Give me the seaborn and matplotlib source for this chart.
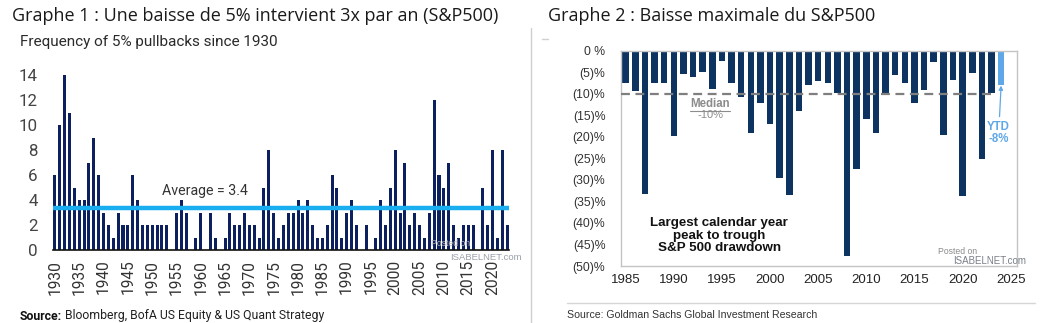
import matplotlib
matplotlib.use("Agg")
import matplotlib.pyplot as plt
import pandas as pd
import seaborn as sns

# ---- Chart 1: number of 5% pullbacks per calendar year (S&P 500) ----
pullback_years = list(range(1930, 2024))
pullback_counts = [6, 10, 14, 11, 5, 4, 4, 7, 9, 6,      # 1930s
                   3, 2, 1, 3, 2, 2, 6, 4, 2, 2,         # 1940s
                   2, 2, 2, 2, 0, 3, 4, 3, 0, 1,         # 1950s
                   3, 0, 3, 1, 0, 1, 3, 2, 2, 3,         # 1960s
                   2, 2, 1, 5, 8, 3, 1, 2, 3, 3,         # 1970s
                   4, 3, 4, 2, 1, 1, 2, 6, 5, 1,         # 1980s
                   3, 4, 2, 0, 2, 0, 1, 4, 2, 5,         # 1990s
                   8, 3, 7, 2, 3, 2, 1, 3, 12, 6,        # 2000s
                   5, 7, 2, 1, 2, 2, 2, 0, 5, 2,         # 2010s
                   8, 1, 8, 2]                           # 2020-2023
pullback_average = 3.4
pullback_xticks = list(range(1930, 2021, 5))
pullback_yticks = list(range(0, 15, 2))

# ---- Chart 2: largest calendar-year peak-to-trough drawdown (%) ----
drawdown_years = list(range(1985, 2025))
drawdown_pct = [-7.6, -9.4, -33.3, -7.6, -7.6, -19.8, -5.5, -6.2, -5.0, -8.8,
                -2.5, -7.6, -10.8, -19.2, -12.1, -17.1, -29.5, -33.5, -13.9, -8.0,
                -7.1, -7.6, -9.8, -47.7, -27.4, -15.9, -19.2, -9.8, -5.6, -7.4,
                -12.2, -9.1, -2.6, -19.6, -6.7, -33.7, -5.1, -25.2, -9.9, -8.0]
drawdown_kind = ["Full year"] * 39 + ["YTD"]
drawdown_median = -10
drawdown_xticks = list(range(1985, 2026, 5))
drawdown_yticks = [0, -5, -10, -15, -20, -25, -30, -35, -40, -45, -50]
drawdown_yticklabels = ["0 %", "(5)%", "(10)%", "(15)%", "(20)%", "(25)%",
                        "(30)%", "(35)%", "(40)%", "(45)%", "(50)%"]

W, H = 1055, 323
NAVY = "#0c1f5e"
AVG_BLUE = "#19aef0"
GS_BLUE = "#0d3461"
YTD_BLUE = "#5ea8e8"

sns.set_style("white")
NARROW = ["Roboto", "DejaVu Sans"]
HUMAN = ["Open Sans", "DejaVu Sans"]
ARIAL = ["Liberation Sans", "DejaVu Sans"]

fig = plt.figure(figsize=(W / 100, H / 100), dpi=100)
fig.patch.set_facecolor("white")


def fx(px):
    return px / W


def fy(py):
    return 1 - py / H


# ------------------------------------------------------------ chart 1
ax1 = fig.add_axes([fx(53), fy(250), fx(456), 14.5 * 12.5 / H])
df1 = pd.DataFrame({"year": pullback_years, "count": pullback_counts})
sns.barplot(data=df1, x="year", y="count", native_scale=True, width=0.62,
            color=NAVY, saturation=1, errorbar=None, linewidth=0, ax=ax1)
ax1.axhline(pullback_average, color=AVG_BLUE, lw=3.2, zorder=3)
ax1.text(1952.1, pullback_average + 1.35, f"Average = {pullback_average}",
         family=NARROW, fontsize=10.2, color="#333333", va="center", ha="left")
ax1.set_xlim(1929.6, 2023.4)
ax1.set_ylim(0, 14.5)
ax1.set_xticks(pullback_xticks)
ax1.set_xticklabels([str(y) for y in pullback_xticks], rotation=90,
                    family=NARROW, fontsize=11.2, color="#333333")
ax1.set_yticks(pullback_yticks)
ax1.set_yticklabels([str(v) for v in pullback_yticks],
                    family=NARROW, fontsize=12.2, color="#444444")
ax1.tick_params(axis="both", length=0)
ax1.tick_params(axis="x", pad=7)
ax1.tick_params(axis="y", pad=11)
for s in ("top", "right", "left"):
    ax1.spines[s].set_visible(False)
ax1.spines["bottom"].set_color("#111111")
ax1.spines["bottom"].set_linewidth(1.2)
ax1.set_xlabel("")
ax1.set_ylabel("")
ax1.set_facecolor("none")

fig.text(fx(431), fy(244), "Posted on", family=ARIAL, fontsize=6.2,
         color="#b8b8b8", va="center", ha="left")
fig.text(fx(450), fy(257), "ISABELNET.com", family=ARIAL, fontsize=6.8,
         color="#9aa0a8", va="center", ha="left")

fig.text(fx(12), fy(16), "Graphe 1 : Une baisse de 5% intervient 3x par an (S&P500)",
         family=HUMAN, fontsize=13, color="#1a1a1a", va="center", ha="left")
fig.text(fx(20), fy(42), "Frequency of 5% pullbacks since 1930",
         family=NARROW, fontsize=11, color="#2a2a2a", va="center", ha="left")

src_bold = fig.text(fx(20), fy(316), "Source:", family=NARROW, fontsize=8.8,
                    weight="bold", color="#111111", va="center", ha="left")

# ------------------------------------------------------------ chart 2
ax2 = fig.add_axes([fx(620.7), fy(266), fx(396), 215.3 / H])
df2 = pd.DataFrame({"year": drawdown_years, "drawdown": drawdown_pct,
                    "kind": drawdown_kind})
sns.barplot(data=df2, x="year", y="drawdown", hue="kind", native_scale=True,
            dodge=False, width=0.68, palette={"Full year": GS_BLUE, "YTD": YTD_BLUE},
            saturation=1, errorbar=None, linewidth=0, legend=False, ax=ax2)
last_full = drawdown_years[-2]
ax2.plot([1984.48, last_full + 0.4], [drawdown_median, drawdown_median],
         color="#7f7f7f", lw=1.6, ls=(0, (4, 2.5)), zorder=4)
ax2.set_xlim(1984.48, 2025.62)
ax2.set_ylim(-50, 0)
ax2.set_xticks(drawdown_xticks)
ax2.set_xticklabels([str(y) for y in drawdown_xticks], family=ARIAL,
                    fontsize=9.5, color="#222222")
ax2.set_yticks(drawdown_yticks)
ax2.set_yticklabels(drawdown_yticklabels, family=ARIAL, fontsize=8.8,
                    color="#333333")
ax2.tick_params(axis="both", length=0)
ax2.tick_params(axis="x", pad=6)
ax2.tick_params(axis="y", pad=11)
for s in ax2.spines.values():
    s.set_color("#c4c4c4")
    s.set_linewidth(1.0)
ax2.set_xlabel("")
ax2.set_ylabel("")

median_txt = ax2.text(1993.76, -12.4, "Median", family=ARIAL, fontsize=8.3,
                      weight="bold", color="#8c8c8c", ha="center", va="center")
ax2.text(1993.76, -14.9, f"{drawdown_median}%", family=ARIAL, fontsize=8.0,
         color="#8c8c8c", ha="center", va="center")
ax2.text(1994.7, -43.0, "Largest calendar year\npeak to trough\nS&P 500 drawdown",
         family=ARIAL, fontsize=9.6, weight="bold", color="#111111",
         ha="center", va="center", linespacing=1.05)
ytd_val = drawdown_pct[-1]
ax2.annotate(f"YTD\n{ytd_val:.0f}%", xy=(drawdown_years[-1], ytd_val - 0.1),
             xytext=(2023.75, -16.4), family=ARIAL, fontsize=8.3, weight="bold",
             color=YTD_BLUE, ha="center", va="top", linespacing=1.0,
             arrowprops=dict(arrowstyle="-|>", color=YTD_BLUE, lw=0.9,
                             mutation_scale=6, shrinkA=1, shrinkB=0))

fig.text(fx(938), fy(251), "Posted on", family=ARIAL, fontsize=6.2,
         color="#8a8a8a", va="center", ha="left")
fig.text(fx(953), fy(261), "ISABELNET.com", family=ARIAL, fontsize=7,
         color="#7a8088", va="center", ha="left")

fig.text(fx(548), fy(16), "Graphe 2 : Baisse maximale du S&P500",
         family=HUMAN, fontsize=13, color="#1a1a1a", va="center", ha="left")
fig.text(fx(567), fy(315), "Source: Goldman Sachs Global Investment Research",
         family=ARIAL, fontsize=7.6, color="#333333", va="center", ha="left")

# panel frame lines
fig.add_artist(plt.Line2D([fx(531), fx(531)], [fy(28), fy(323)],
                          color="#cfcfcf", lw=1.0))
fig.add_artist(plt.Line2D([fx(567), fx(1035)], [fy(303), fy(303)],
                          color="#d6d6d6", lw=1.0))
fig.add_artist(plt.Line2D([fx(542), fx(548)], [fy(39), fy(39)],
                          color="#d0d0d0", lw=1.0))

# place the regular part of the source line and underline "Median"
fig.canvas.draw()
renderer = fig.canvas.get_renderer()
bb = src_bold.get_window_extent(renderer)
fig.text((bb.x1 + 3) / W, fy(316), "Bloomberg, BofA US Equity & US Quant Strategy",
         family=NARROW, fontsize=8.8, color="#222222", va="center", ha="left")
mb = median_txt.get_window_extent(renderer)
fig.add_artist(plt.Line2D([mb.x0 / W, mb.x1 / W], [(mb.y0 - 0.5) / H] * 2,
                          color="#8c8c8c", lw=0.8))

fig.savefig("out.png", dpi=100, facecolor="white")
